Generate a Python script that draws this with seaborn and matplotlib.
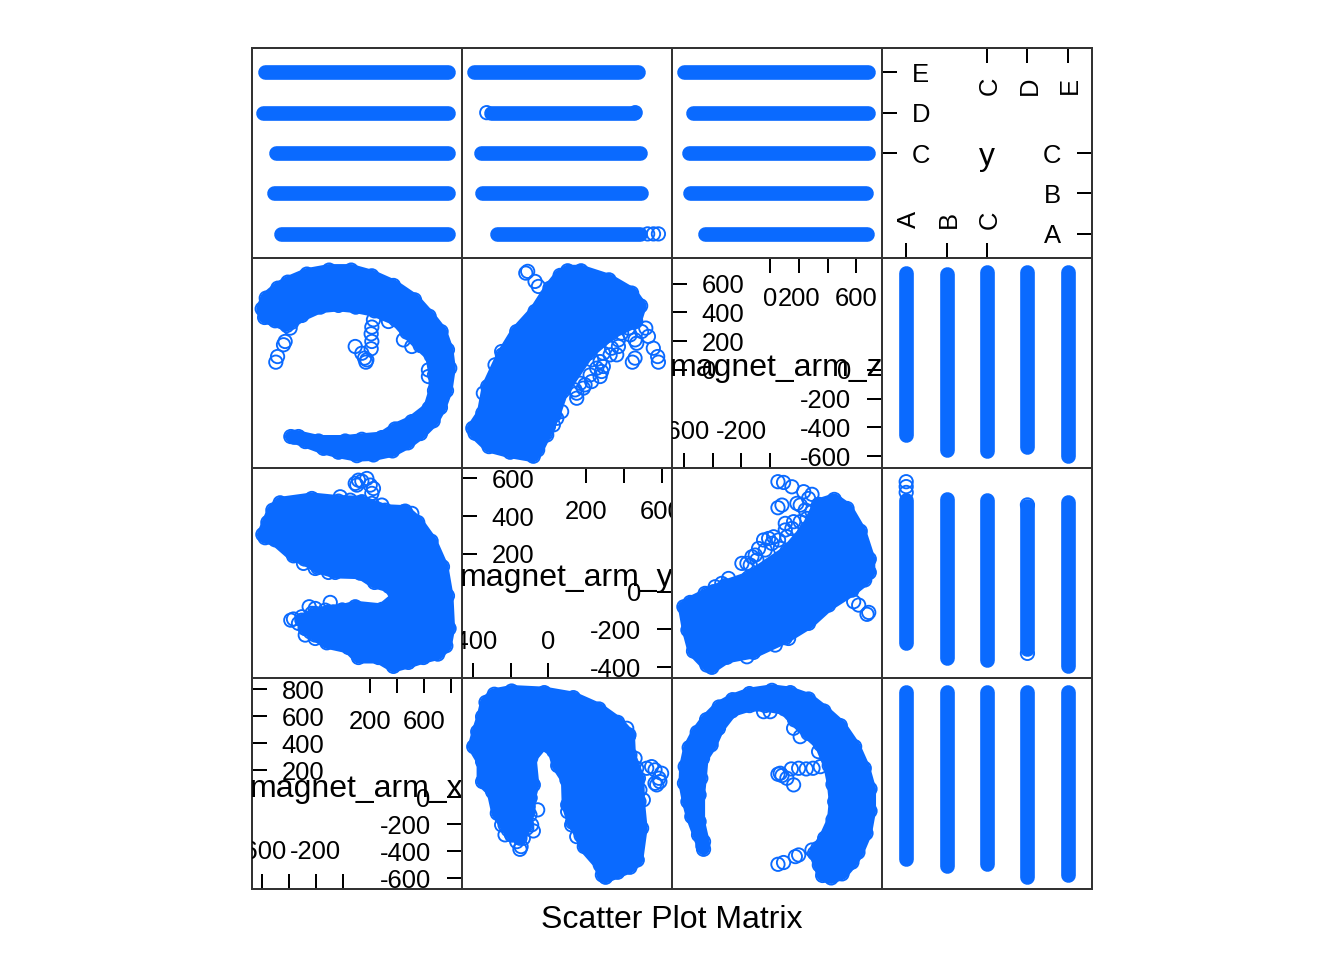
#!/usr/bin/env python3
"""
Scatter plot matrix of the three magnet_arm columns against the class y.
Values were read off the reference picture.
"""
import matplotlib
matplotlib.use("Agg")
import matplotlib.pyplot as plt
import seaborn as sns

BLUE = "#0A6AFF"
FRAME = "#333333"

classes = ["A", "B", "C", "D", "E"]
class_pos = [1, 2, 3, 4, 5]

# range of every column inside each class
x_low = [-455, -511, -496, -590, -577]
x_high = [777, 777, 777, 777, 777]
y_low = [-272, -354, -360, -306, -396]
y_high = [485, 490, 485, 455, 474]
z_low = [-452, -560, -567, -539, -601]
z_high = [675, 666, 681, 681, 681]

# stray y values past the ends of the ranges
y_stray_class = [1, 1, 1, 4, 4]
y_stray = [526, 557, 583, -327, 460]

# outline of the x/z cloud
xz_hull_z = [-464, -499, -546, -573, -597, -592, -564, -508, -443, -355, -262, -144, 12, 140, 267, 374, 488,
             588, 655, 695, 695, 667, 611, 569, 500, 425, 365, 342, 309, 332, 379, 437, 449, 437, 411, 349,
             263, 170, 100, -35, -144, -267, -360, -411, -471, -483, -495, -495, -464]
xz_hull_x = [-385, -278, -143, -32, 104, 227, 368, 481, 575, 669, 723, 768, 792, 775, 728, 639, 531,
             375, 215, 62, -101, -266, -407, -481, -567, -597, -579, -501, -414, -377, -303, -167, -32, 96, 235, 393,
             474, 573, 654, 679, 679, 639, 511, 388, 289, 141, 18, -180, -328]
xz_loose_z = [-46, 0, 163, 209, 54, 82, 116, 163, 147, 198, 251, 298, 349, 54, 93, 175, 198, 291, -469, 70, 337]
xz_loose_x = [634, 634, 511, 449, 171, 161, 141, 92, 210, 215, 210, 215, 227, -496, -483, -439, -427, -390, -360,
              178, 338]

# outline of the x/y cloud
xy_hull_y = [-396, -375, -349, -331, -287, -195, -22, 132, 268, 367, 427, 432, 477, 480, 494, 471, 432, 367, 303,
             286, 275, 190, 173, 128, 102, 98, 49, 28, -31, -94, -80, -98, -107, -115, -151, -195, -230, -271, -296,
             -349, -349]
xy_hull_x = [375, 486, 597, 703, 763, 787, 775, 738, 654, 555, 462, 314, 141, -32, -229, -464, -518, -555, -592,
             -575, -501, -365, -283, -185, -56, 129, 235, 343, 395, 289, 92, -7, -106, -204, -303, -278, -204, -118,
             42, 116, 264]
xy_loose_y = [-98, -57, -98, -80, -115, -230, -195, -151, -145, -107, -168, -89, -248, -213, -133, 415, 459, 521,
              565, 586, 574, 485, 503, 468, 423, 102, 123, 150, 547, 600, 565, 591]
xy_loose_x = [-1, -93, -130, -249, -229, -278, -278, -385, -365, -69, -328, -204, -204, -241, -303, 511, 289, 215,
              203, 141, 92, 55, -19, 215, 449, -106, -204, -291, 227, 178, 104, 116]

# outline of the y/z cloud
yz_hull_z = [-601, -557, -441, -313, -151, 116, 256, 337, 446, 535, 627, 690, 690, 658, 569, 407, 267, 105, -116,
             -302, -406, -441, -534, -573]
yz_hull_y = [-80, -57, -14, 32, 74, 212, 335, 463, 489, 441, 321, 173, 102, 62, 8, -71, -168, -244, -322,
             -348, -401, -389, -315, -203]
yz_loose_z = [54, 93, 151, 233, 291, 54, 82, 186, 244, 163, 256, 105, -11, -46, 24, 70, -127, -162, -104, -290,
              -395, 616, 674, 686, 581, -162, 35, 128, -197, -139, -93, -35, 12, 58, 116, 151, 209, 291, 209, 267,
              -81, 105, -383, -337, -453]
yz_loose_y = [583, 579, 556, 530, 516, 445, 459, 468, 433, 371, 388, 327, 282, 274, 291, 229, 185, 150, 194, 70,
              0, -71, -120, -110, -53, -345, -283, -248, 150, 141, 168, 221, 256, 274, 291, 335, 371, 424, 459, 494,
              229, 362, 26, 44, -9]

x_lim = (-676, 880)
y_lim = (-460, 654)
z_lim = (-685, 778)
class_lim = (0.4, 5.6)

x_left = [800, 600, 400, 200]
x_right = [0, -200, -400, -600]
x_top = [200, 400, 600, 800]
x_top_labels = [200, 600]
x_bottom = [-600, -400, -200, 0]
x_bottom_labels = [-600, -200]

y_left = [600, 400, 200]
y_right = [0, -200, -400]
y_top = [200, 400, 600]
y_top_labels = [200, 600]
y_bottom = [-400, -200, 0]
y_bottom_labels = [-400, 0]

z_left = [600, 400, 200, 0]
z_right = [0, -200, -400, -600]
z_top = [0, 200, 400, 600]
z_top_labels = [0, 200, 600]
z_bottom = [-600, -400, -200, 0]
z_bottom_labels = [-600, -200]

sns.set_style("white")
plt.rcParams["font.family"] = ["Liberation Sans", "DejaVu Sans"]
plt.rcParams["text.color"] = "black"

W, H = 1344, 960
LEFT, TOP, SIZE = 251.5, 48.0, 210.15
TICK = 15 / SIZE

fig = plt.figure(figsize=(7, 5), dpi=192, facecolor="white")


def panel(row, col, xlim, ylim):
    pos = [(LEFT + col * SIZE) / W, 1 - (TOP + (row + 1) * SIZE) / H, SIZE / W, SIZE / H]
    ax = fig.add_axes(pos)
    ax.set_xlim(xlim)
    ax.set_ylim(ylim)
    ax.set_xticks([])
    ax.set_yticks([])
    for spine in ax.spines.values():
        spine.set_color(FRAME)
        spine.set_linewidth(0.75)
        spine.set_visible(True)
    return ax


def points(ax, xs, ys):
    sns.scatterplot(x=xs, y=ys, ax=ax, marker="o", s=25, facecolor="none", edgecolor=BLUE, linewidth=0.7,
                    clip_on=True, legend=False)


def cloud(ax, hull_x, hull_y, loose_x, loose_y):
    ax.fill(hull_x, hull_y, facecolor=BLUE, edgecolor=BLUE, linewidth=4.5, joinstyle="round")
    points(ax, hull_x, hull_y)
    points(ax, loose_x, loose_y)


def strips_h(ax, low, high):
    for pos, a, b in zip(class_pos, low, high):
        sns.lineplot(x=[a, b], y=[pos, pos], ax=ax, color=BLUE, linewidth=5.5, sort=False, estimator=None,
                     solid_capstyle="round", legend=False)


def strips_v(ax, low, high):
    for pos, a, b in zip(class_pos, low, high):
        sns.lineplot(x=[pos, pos], y=[a, b], ax=ax, color=BLUE, linewidth=5.5, sort=False, estimator=None,
                     solid_capstyle="round", legend=False, orient="y")


def diag_axis(ax, left, right, top, bottom, top_labels, bottom_labels, left_labels=None, right_labels=None,
              top_text=None, bottom_text=None, rotate=0, top_off=41.0, bottom_off=39.0, shift=0.0):
    xtr = ax.get_xaxis_transform()
    ytr = ax.get_yaxis_transform()
    left_labels = left if left_labels is None else left_labels
    right_labels = right if right_labels is None else right_labels
    top_text = top_labels if top_text is None else top_text
    bottom_text = bottom_labels if bottom_text is None else bottom_text
    for v in left:
        ax.plot([0, TICK], [v, v], transform=ytr, color="black", lw=0.75, clip_on=False, solid_capstyle="butt")
    for v in right:
        ax.plot([1 - TICK, 1], [v, v], transform=ytr, color="black", lw=0.75, clip_on=False, solid_capstyle="butt")
    for v in top:
        ax.plot([v, v], [1 - TICK, 1], transform=xtr, color="black", lw=0.75, clip_on=False, solid_capstyle="butt")
    for v in bottom:
        ax.plot([v, v], [0, TICK], transform=xtr, color="black", lw=0.75, clip_on=False, solid_capstyle="butt")
    for v, t in zip(left, left_labels):
        ax.text(30 / SIZE, v, str(t), transform=ytr, ha="left", va="center_baseline", fontsize=9.6, clip_on=True)
    for v, t in zip(right, right_labels):
        ax.text(1 - 31 / SIZE, v, str(t), transform=ytr, ha="right", va="center_baseline", fontsize=9.6, clip_on=True)
    for v, t in zip(top_labels, top_text):
        ax.text(v + shift, 1 - top_off / SIZE, str(t), transform=xtr, ha="center", va="center_baseline",
                fontsize=9.6, rotation=rotate, clip_on=True)
    for v, t in zip(bottom_labels, bottom_text):
        ax.text(v + shift, bottom_off / SIZE, str(t), transform=xtr, ha="center", va="center_baseline",
                fontsize=9.6, rotation=rotate, clip_on=True)


def diag_name(ax, name, drop=5):
    ax.text(0.5, 0.5 - drop / SIZE, name, transform=ax.transAxes, ha="center", va="center", fontsize=12, clip_on=True)


# row 1: y against everything
ax = panel(0, 0, x_lim, class_lim)
strips_h(ax, x_low, x_high)
ax = panel(0, 1, y_lim, class_lim)
strips_h(ax, y_low, y_high)
points(ax, y_stray, y_stray_class)
ax = panel(0, 2, z_lim, class_lim)
strips_h(ax, z_low, z_high)
ax = panel(0, 3, class_lim, class_lim)
diag_axis(ax, [5, 4, 3], [3, 2, 1], [3, 4, 5], [1, 2, 3], [3, 4, 5], [1, 2, 3],
          left_labels=["E", "D", "C"], right_labels=["C", "B", "A"],
          top_text=["C", "D", "E"], bottom_text=["A", "B", "C"], rotate=90, top_off=38.0, bottom_off=38.0, shift=0.06)
diag_name(ax, "y", drop=4)

# row 2: magnet_arm_z
ax = panel(1, 0, x_lim, z_lim)
cloud(ax, xz_hull_x, xz_hull_z, xz_loose_x, xz_loose_z)
ax = panel(1, 1, y_lim, z_lim)
cloud(ax, yz_hull_y, yz_hull_z, yz_loose_y, yz_loose_z)
ax = panel(1, 2, z_lim, z_lim)
diag_axis(ax, z_left, z_right, z_top, z_bottom, z_top_labels, z_bottom_labels, top_off=38.5)
diag_name(ax, "magnet_arm_z")
ax = panel(1, 3, class_lim, z_lim)
strips_v(ax, z_low, z_high)

# row 3: magnet_arm_y
ax = panel(2, 0, x_lim, y_lim)
cloud(ax, xy_hull_x, xy_hull_y, xy_loose_x, xy_loose_y)
ax = panel(2, 1, y_lim, y_lim)
diag_axis(ax, y_left, y_right, y_top, y_bottom, y_top_labels, y_bottom_labels)
diag_name(ax, "magnet_arm_y")
ax = panel(2, 2, z_lim, y_lim)
cloud(ax, yz_hull_z, yz_hull_y, yz_loose_z, yz_loose_y)
ax = panel(2, 3, class_lim, y_lim)
strips_v(ax, y_low, y_high)
points(ax, y_stray_class, y_stray)

# row 4: magnet_arm_x
ax = panel(3, 0, x_lim, x_lim)
diag_axis(ax, x_left, x_right, x_top, x_bottom, x_top_labels, x_bottom_labels)
diag_name(ax, "magnet_arm_x")
ax = panel(3, 1, y_lim, x_lim)
cloud(ax, xy_hull_y, xy_hull_x, xy_loose_y, xy_loose_x)
ax = panel(3, 2, z_lim, x_lim)
cloud(ax, xz_hull_z, xz_hull_x, xz_loose_z, xz_loose_x)
ax = panel(3, 3, class_lim, x_lim)
strips_v(ax, x_low, x_high)

fig.text(672 / W, 1 - 920 / H, "Scatter Plot Matrix", ha="center", va="center", fontsize=12)

fig.savefig("out.png", dpi=192)
